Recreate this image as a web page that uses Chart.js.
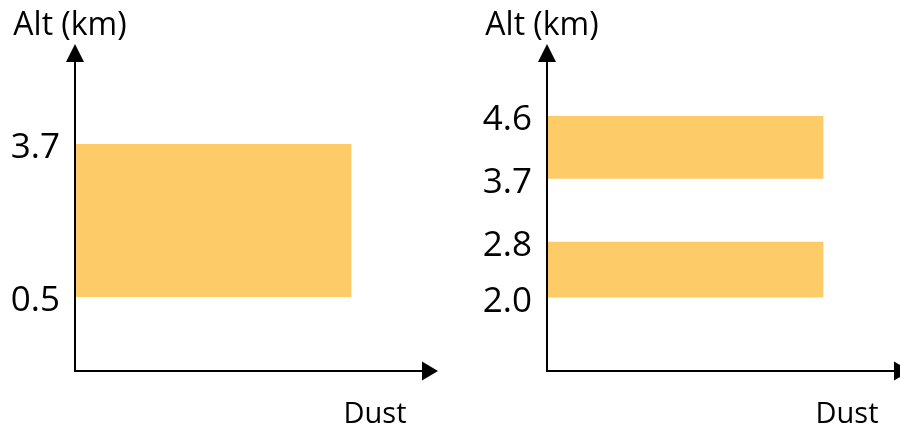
<!DOCTYPE html>
<html>
<head>
<meta charset="utf-8">
<script src="https://cdn.jsdelivr.net/npm/chart.js@4.4.1/dist/chart.umd.min.js"></script>
<style>
  html, body { margin: 0; padding: 0; background: #fff; }
  #wrap { position: relative; width: 900px; height: 430px; overflow: hidden; }
  .panel { position: absolute; top: 0; width: 450px; height: 430px; }
  #left { left: 0; }
  #right { left: 450px; }
</style>
</head>
<body>
<div id="wrap">
  <div class="panel" id="left"><canvas id="chartLeft"></canvas></div>
  <div class="panel" id="right"><canvas id="chartRight"></canvas></div>
</div>
<script>
(function () {
  'use strict';

  // dust layers as [bottom, top] altitude in km
  const LEFT_LAYERS  = [[0.5, 3.7]];
  const RIGHT_LAYERS = [[2.0, 2.8], [3.7, 4.6]];
  const LEFT_TICKS   = [0.5, 3.7];
  const RIGHT_TICKS  = [2.0, 2.8, 3.7, 4.6];
  // horizontal extent of every layer, in arbitrary dust units
  const DUST_EXTENT  = [0, 1];

  const Y_TITLE = 'Alt (km)';
  const X_TITLE = 'Dust';

  const LAYER_FILL = '#FECB69';
  const INK = '#000000';
  const FONT = '"Open Sans", "Noto Sans", sans-serif';

  // arrows on the axes plus the two axis titles
  const axisDecor = {
    id: 'axisDecor',
    afterDraw(chart) {
      const ctx = chart.ctx;
      const a = chart.chartArea;
      ctx.save();
      ctx.strokeStyle = INK;
      ctx.fillStyle = INK;
      ctx.lineWidth = 2;

      ctx.beginPath();
      ctx.moveTo(a.left, a.bottom + 1);
      ctx.lineTo(a.left, a.top + 2);
      ctx.moveTo(a.left - 1, a.bottom);
      ctx.lineTo(a.right, a.bottom);
      ctx.stroke();

      // y arrow head
      ctx.beginPath();
      ctx.moveTo(a.left, a.top - 16);
      ctx.lineTo(a.left - 9, a.top + 2);
      ctx.lineTo(a.left + 9, a.top + 2);
      ctx.closePath();
      ctx.fill();

      // x arrow head
      ctx.beginPath();
      ctx.moveTo(a.right + 15, a.bottom);
      ctx.lineTo(a.right - 1, a.bottom - 9.5);
      ctx.lineTo(a.right - 1, a.bottom + 9.5);
      ctx.closePath();
      ctx.fill();

      ctx.textBaseline = 'alphabetic';
      ctx.textAlign = 'center';
      ctx.font = '32px ' + FONT;
      ctx.fillText(Y_TITLE, a.left - 5, 35);
      ctx.font = '29px ' + FONT;
      ctx.fillText(X_TITLE, a.right - 48, 423);
      ctx.restore();
    }
  };

  function edge(alt) {
    return DUST_EXTENT.map(function (d) { return { x: d, y: alt }; });
  }

  function layerDatasets(layers) {
    const sets = [];
    layers.forEach(function (l) {
      sets.push({ data: edge(l[0]), fill: false, borderWidth: 0, pointRadius: 0 });
      sets.push({ data: edge(l[1]), fill: '-1', backgroundColor: LAYER_FILL, borderWidth: 0, pointRadius: 0 });
    });
    return sets;
  }

  function buildChart(canvas, layers, ticks, yRange, axisWidth, rightPad) {
    return new Chart(canvas, {
      type: 'line',
      data: { datasets: layerDatasets(layers) },
      options: {
        responsive: true,
        maintainAspectRatio: false,
        animation: false,
        layout: { padding: { top: 60, bottom: 59, left: 0, right: rightPad } },
        plugins: {
          legend: { display: false },
          tooltip: { enabled: false }
        },
        scales: {
          x: {
            type: 'linear',
            display: false,
            min: 0,
            max: 1.258
          },
          y: {
            type: 'linear',
            min: yRange[0],
            max: yRange[1],
            grid: { display: false, drawTicks: false },
            border: { display: false },
            afterBuildTicks: function (scale) {
              scale.ticks = ticks.map(function (v) { return { value: v }; });
            },
            afterFit: function (scale) { scale.width = axisWidth; },
            ticks: {
              autoSkip: false,
              padding: 15,
              labelOffset: 4,
              color: INK,
              font: { family: FONT, size: 35 },
              callback: function (v) { return Number(v).toFixed(1); }
            }
          }
        }
      },
      plugins: [axisDecor]
    });
  }

  buildChart(document.getElementById('chartLeft'), LEFT_LAYERS, LEFT_TICKS, [-1.05, 5.46], 75, 27);
  buildChart(document.getElementById('chartRight'), RIGHT_LAYERS, RIGHT_TICKS, [0.95, 5.40], 97, 5);
})();
</script>
</body>
</html>
